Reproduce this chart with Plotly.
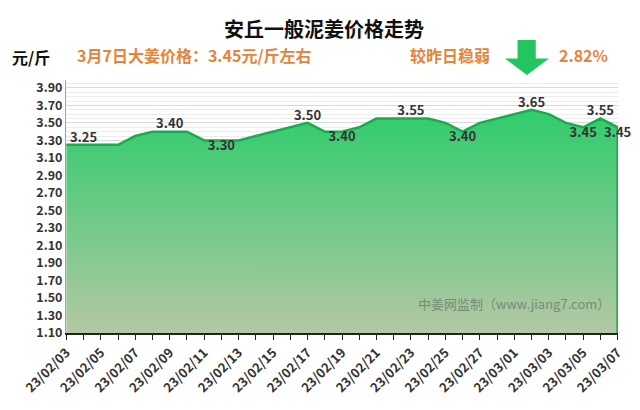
import plotly.graph_objects as go

dates = ["23/02/%02d" % d for d in range(3, 29)] + ["23/03/%02d" % d for d in range(1, 8)]
prices = [3.25, 3.25, 3.25, 3.25, 3.35, 3.40, 3.40, 3.40, 3.30, 3.30, 3.30, 3.35, 3.40, 3.45, 3.50,
          3.40, 3.40, 3.45, 3.55, 3.55, 3.55, 3.55, 3.50, 3.40, 3.50, 3.55, 3.60, 3.65, 3.60, 3.50,
          3.45, 3.55, 3.45]
label_idx = [1, 6, 9, 14, 16, 20, 23, 27, 30, 31, 32]
label_pos = ["top center", "top center", "bottom center", "top center", "bottom center", "top center",
             "bottom center", "top center", "bottom center", "top center", "bottom center"]
tick_labels = [d if i % 2 == 0 else "" for i, d in enumerate(dates)]
yticks = [round(1.10 + 0.2 * i, 2) for i in range(15)]

font = "Noto Sans CJK SC"
fig = go.Figure()
fig.add_trace(go.Scatter(
    x=dates, y=prices, mode="lines", line=dict(color="#1fa852", width=2.5),
    fill="tozeroy",
    fillgradient=dict(type="vertical", start=1.10, stop=3.65,
                      colorscale=[[0, "#b3c8a4"], [1, "#2fcc6c"]]),
    hoverinfo="skip", showlegend=False))
fig.add_trace(go.Scatter(x=[dates[-1], dates[-1]], y=[prices[-1], 1.10], mode="lines",
                         line=dict(color="#1fa852", width=2.5), showlegend=False, hoverinfo="skip"))
fig.add_trace(go.Scatter(
    x=[dates[i] for i in label_idx], y=[prices[i] for i in label_idx], mode="text",
    text=["%.2f" % prices[i] for i in label_idx], textposition=label_pos, cliponaxis=False,
    textfont=dict(family=font, size=13, color="#333333", weight="bold"), showlegend=False))

fig.update_layout(
    width=632, height=402, margin=dict(l=58, r=22, t=72, b=77, autoexpand=False),
    paper_bgcolor="white", plot_bgcolor="white",
    font=dict(family=font, color="#333"),
    title=dict(text="<b>安丘一般泥姜价格走势</b>", x=0.5, xanchor="center", y=0.945, yanchor="middle",
               font=dict(size=20, color="#111")),
    xaxis=dict(type="category", tickvals=dates, ticktext=tick_labels, tickangle=-45, automargin=False,
               ticks="outside", ticklen=5, tickcolor="#222", showline=True, linecolor="#222",
               linewidth=2, showgrid=False, range=[-0.02, len(dates) - 0.98],
               tickfont=dict(size=13, color="#333", weight="bold")),
    yaxis=dict(range=[1.10, 3.99], tickvals=yticks, ticktext=["%.2f" % v for v in yticks],
               automargin=False,
               showgrid=True, gridcolor="#d8d8d8", gridwidth=1,
               minor=dict(dtick=0.05, tick0=1.10, showgrid=True, gridcolor="#ececec"),
               showline=True, linecolor="#8aa", linewidth=1, zeroline=False,
               tickfont=dict(size=12.5, color="#333", weight="bold")),
)
orange = "#e5843c"
fig.add_annotation(text="<b>元/斤</b>", xref="paper", yref="paper", x=-0.102, y=1.09,
                   xanchor="left", yanchor="middle", showarrow=False, font=dict(size=16, color="#111"))
fig.add_annotation(text="<b>3月7日大姜价格：3.45元/斤左右</b>", xref="paper", yref="paper",
                   x=0.016, y=1.099, xanchor="left", yanchor="middle", showarrow=False,
                   font=dict(size=16, color=orange))
fig.add_annotation(text="<b>较昨日稳弱</b>", xref="paper", yref="paper", x=0.62, y=1.099,
                   xanchor="left", yanchor="middle", showarrow=False, font=dict(size=16, color=orange))
fig.add_annotation(text="<b>2.82%</b>", xref="paper", yref="paper", x=0.89, y=1.099,
                   xanchor="left", yanchor="middle", showarrow=False, font=dict(size=16, color=orange))
fig.add_annotation(text="中姜网监制（www.jiang7.com）", xref="paper", yref="paper", x=0.99, y=0.07,
                   xanchor="right", showarrow=False, font=dict(size=13, color="#7a8a78"))
fig.add_shape(type="path", xref="paper", yref="paper",
              path="M 0.818 1.158 L 0.851 1.158 L 0.851 1.085 L 0.875 1.085 L 0.835 1.02 L 0.795 1.085 L 0.818 1.085 Z",
              fillcolor="#22c55e", line=dict(width=0))
fig.write_html("out.html")
